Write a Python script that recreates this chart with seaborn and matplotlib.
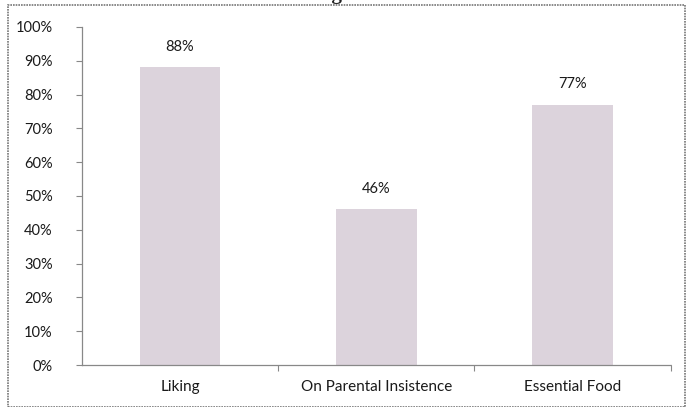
import matplotlib
matplotlib.use("Agg")
import matplotlib.pyplot as plt
from matplotlib.patches import Rectangle
import seaborn as sns
import pandas as pd

categories = ["Liking", "On Parental Insistence", "Essential Food"]
values = [88, 46, 77]
yticks = [0, 10, 20, 30, 40, 50, 60, 70, 80, 90, 100]
ytick_labels = [f"{v}%" for v in yticks]

sns.set_theme(style="white")
plt.rcParams["font.family"] = ["Lato", "DejaVu Sans"]

df = pd.DataFrame({"category": categories, "value": values})

fig = plt.figure(figsize=(6.93, 4.07), dpi=100)
ax = fig.add_axes([0.118, 0.103, 0.850, 0.831])

bar_color = "#dcd3dc"
sns.barplot(data=df, x="category", y="value", color=bar_color, width=0.41,
            saturation=1, ax=ax, edgecolor="none")

text_color = "#1a1a1a"
for i, v in enumerate(values):
    ax.annotate(f"{v}%", (i, v), xytext=(0, 10), textcoords="offset points",
                ha="center", va="bottom", fontsize=10.5, color=text_color)

ax.set_ylim(0, 100)
ax.set_xlim(-0.5, 2.5)
ax.set_yticks(yticks)
ax.set_yticklabels(ytick_labels, fontsize=10.5, color=text_color)
ax.set_xticks(range(len(categories)))
ax.set_xticklabels(categories, fontsize=11, color=text_color)
ax.set_xticks([0.5, 1.5, 2.5], minor=True)
ax.tick_params(axis="x", which="major", length=0, pad=11)
ax.tick_params(axis="x", which="minor", length=4, width=0.8, color="#888888",
               direction="out", bottom=True)
ax.tick_params(axis="y", length=4, width=0.8, color="#888888", direction="out",
               left=True, pad=17)
ax.set_xlabel("")
ax.set_ylabel("")

for side in ["top", "right"]:
    ax.spines[side].set_visible(False)
for side in ["left", "bottom"]:
    ax.spines[side].set_color("#888888")
    ax.spines[side].set_linewidth(0.9)
    ax.spines[side].set_linestyle((0, (1, 1)))

# outer chart frame
frame = Rectangle((8 / 693, 0.0), 677 / 693, 1 - 5 / 407, transform=fig.transFigure,
                  fill=False, edgecolor="#777777", linewidth=1.2,
                  linestyle=(0, (1, 0.6)), zorder=5)
fig.patches.append(frame)

# figure caption sitting above the frame, trimmed by the top edge
fig.text(0.505, 1.0 + 1 / 407, "Figure 1", ha="center", va="baseline",
         fontsize=15, fontweight="bold", family=["Liberation Serif", "DejaVu Serif"],
         color="#222222")

fig.savefig("out.png", dpi=100)
